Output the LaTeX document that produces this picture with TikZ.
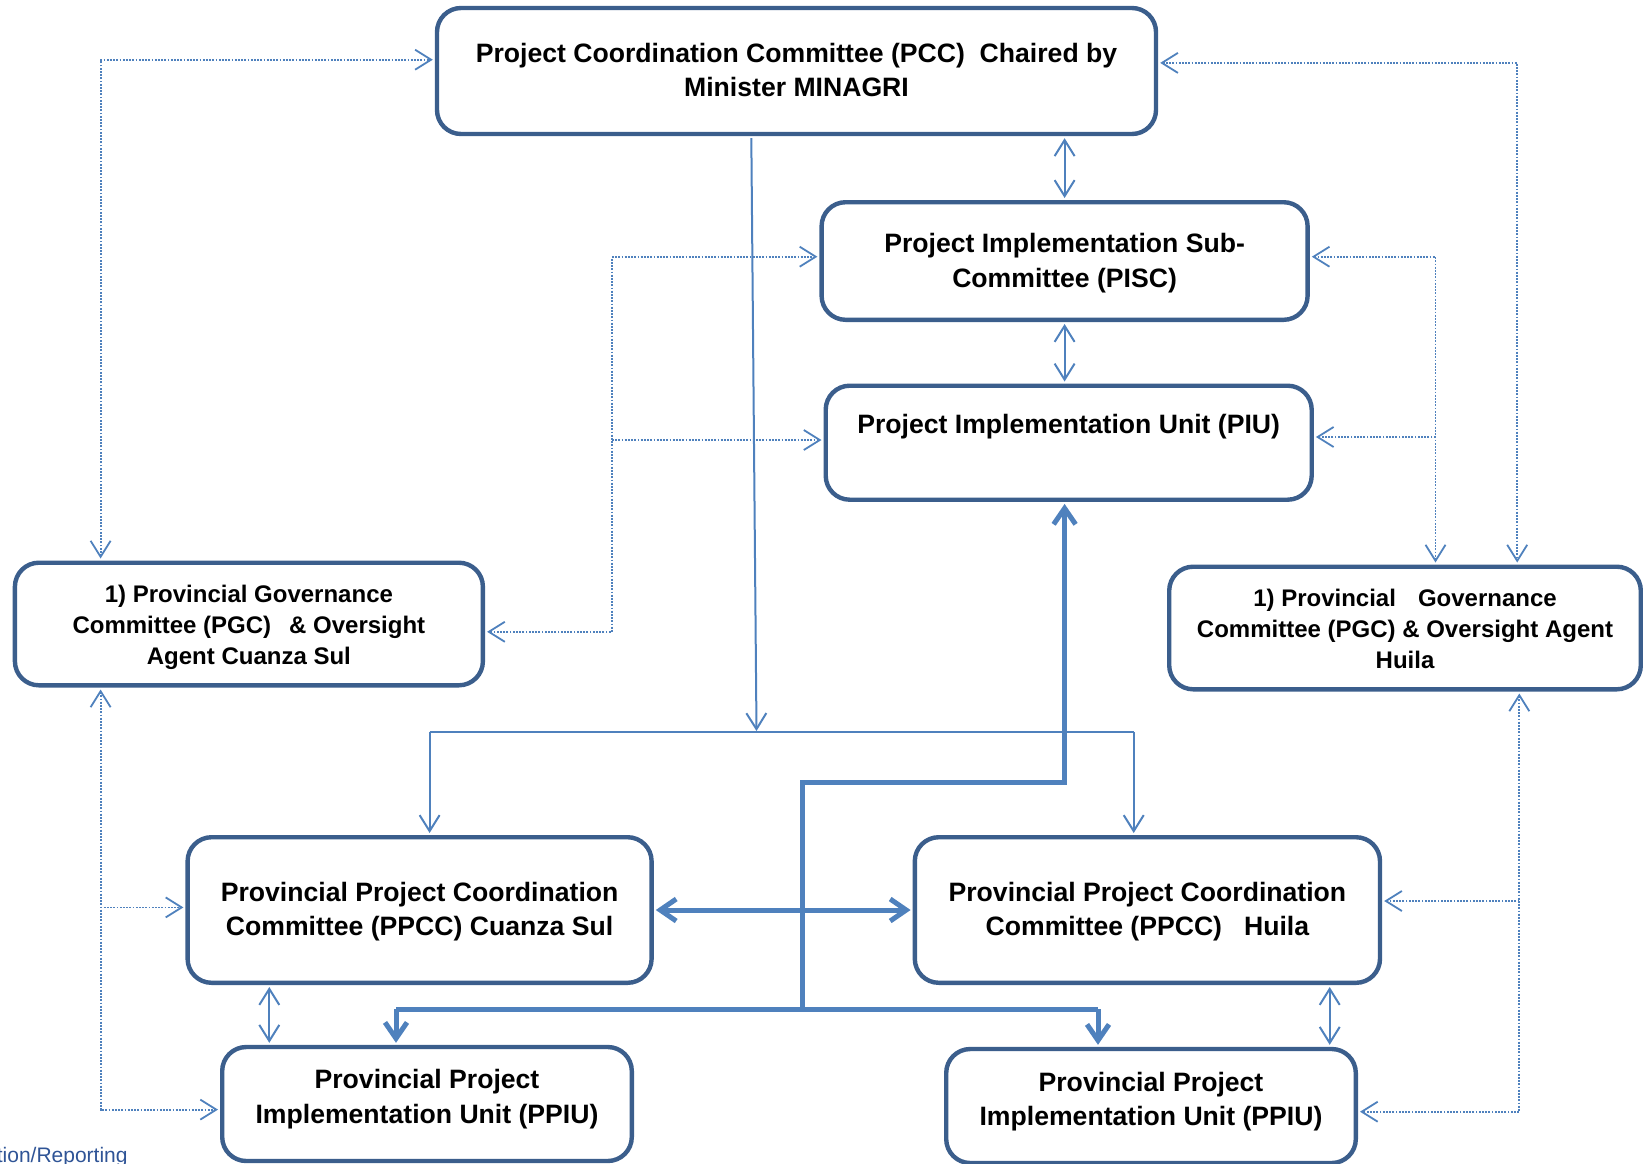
\documentclass[tikz,border=0pt]{standalone}
\usepackage{fontspec}
\setmainfont{Liberation Sans}
\usetikzlibrary{arrows.meta,calc}
\definecolor{boxline}{RGB}{59,94,140}
\definecolor{link}{RGB}{79,129,189}
\definecolor{legendblue}{RGB}{47,84,150}
\tikzset{
  barb/.tip={Straight Barb[length=8pt,width=10pt]},
  bigbarb/.tip={Straight Barb[length=8pt,width=11pt]},
}
\begin{document}
\begin{tikzpicture}[x=0.5pt,y=-0.5pt,
  box/.style={draw=boxline, line width=2.2pt, rounded corners=12pt, fill=white, inner sep=0pt},
  txt/.style={align=center, inner sep=0pt, font=\bfseries\fontsize{13.3}{17.3}\selectfont},
  pgctxt/.style={txt, font=\bfseries\fontsize{12}{15.5}\selectfont},
  thinlink/.style={draw=link, line width=1pt, shorten >=1pt, shorten <=1pt},
  thicklink/.style={draw=link, line width=2.5pt, shorten >=1pt, shorten <=1pt},
  dotlink/.style={draw=link, line width=0.9pt, dash pattern=on 0.9pt off 0.7pt,
    shorten >=1pt, shorten <=1pt},
]
\useasboundingbox (0,0) rectangle (1643,1163);
\clip (0,0) rectangle (1643,1163);

% ---------- boxes ----------
\node[box, minimum width=359.5pt, minimum height=63pt] (pcc) at (796.5,71) {};
\node[box, minimum width=243pt, minimum height=58.8pt] (pisc) at (1064.6,261) {};
\node[box, minimum width=243pt, minimum height=57pt] (piu) at (1068.7,442.7) {};
\node[box, minimum width=234pt, minimum height=61.3pt] (pgcL) at (248.9,624) {};
\node[box, minimum width=235.8pt, minimum height=61.3pt] (pgcR) at (1405,628) {};
\node[box, minimum width=232pt, minimum height=72.8pt] (ppccL) at (419.6,910) {};
\node[box, minimum width=232.6pt, minimum height=72.8pt] (ppccR) at (1147.4,910) {};
\node[box, minimum width=204.8pt, minimum height=57pt] (ppiuL) at (427,1104) {};
\node[box, minimum width=204.8pt, minimum height=57pt] (ppiuR) at (1151,1106) {};

% ---------- box texts ----------
\node[txt] (pcctext) at ($(pcc)+(0,-1)$)
  {Project Coordination Committee (PCC)~ Chaired by\\Minister MINAGRI};
\node[txt] (pisctext) at ($(pisc)+(0,2)$)
  {Project Implementation Sub-\\Committee (PISC)};
\node[txt] (piutext) at ($(piu)+(0,-16.2)$) {Project Implementation Unit (PIU)};
\node[pgctxt] (pgcLtext) at ($(pgcL)+(0,3)$)
  {1) Provincial Governance\\Committee (PGC)\hspace{9pt}\& Oversight\\Agent Cuanza Sul};
\node[pgctxt] (pgcRtext) at ($(pgcR)+(0,0.5)$)
  {1) Provincial\hspace{11pt}Governance\\Committee (PGC) \& Oversight Agent\\Huila};
\node[txt] (ppccLtext) at ($(ppccL)+(0,1.5)$)
  {Provincial Project Coordination\\Committee (PPCC) Cuanza Sul};
\node[txt] (ppccRtext) at ($(ppccR)+(0,1.5)$)
  {Provincial Project Coordination\\Committee (PPCC)\hspace{11pt}Huila};
\node[txt] (ppiuLtext) at ($(ppiuL)+(0,-5)$) {Provincial Project\\Implementation Unit (PPIU)};
\node[txt] (ppiuRtext) at ($(ppiuR)+(0,-4.5)$) {Provincial Project\\Implementation Unit (PPIU)};

\node[anchor=base east, inner sep=0pt, text=legendblue,
  font=\fontsize{10.5}{12}\selectfont] (legend) at (128,1162) {tion/Reporting};

% ---------- solid thin links ----------
\coordinate (drop) at (756.5,731);
\coordinate (busL) at (429.6,732.4);
\coordinate (busR) at (1133.7,732.4);
\draw[thinlink, shorten >=0pt, -barb] ($(pcc.south)+(-45.2,0)$) -- (drop);
\draw[draw=link, line width=1pt] (busL) -- (busR);
\draw[thinlink, shorten <=0pt, -barb] (busL) -- (busL |- ppccL.north);
\draw[thinlink, shorten <=0pt, -barb] (busR) -- (busR |- ppccR.north);

\draw[thinlink, barb-barb] (pcc.south -| pisc.north) -- (pisc.north);
\draw[thinlink, barb-barb] (pisc.south) -- (pisc.south |- piu.north);

\coordinate (pl) at (269.3,0);
\coordinate (pr) at (1329.7,0);
\draw[thinlink, barb-barb] (ppccL.south -| pl) -- (ppiuL.north -| pl);
\draw[thinlink, barb-barb] (ppccR.south -| pr) -- (ppiuR.north -| pr);

% ---------- thick links ----------
\coordinate (t1) at (1064.6,782.7);
\coordinate (t2) at (802.6,782.7);
\coordinate (t3) at (802.6,1009);
\coordinate (t4L) at (396,1009);
\coordinate (t4R) at (1098,1009);
\draw[thicklink, shorten >=0pt, bigbarb-] (t1 |- piu.south) -- (t1) -- (t2) -- (t3);
\draw[draw=link, line width=2.5pt] (t4L) -- (t4R);
\draw[thicklink, shorten <=0pt, -bigbarb] (t4L) -- (t4L |- ppiuL.north);
\draw[thicklink, shorten <=0pt, -bigbarb] (t4R) -- (t4R |- ppiuR.north);
\draw[thicklink, bigbarb-bigbarb] (ppccL.east) -- (ppccR.west);

% ---------- dotted links, left side ----------
\coordinate (a1) at (100.6,59.7);
\draw[dotlink, barb-barb] (pgcL.north -| a1) -- (a1) -- (a1 -| pcc.west);
\coordinate (b1) at (100.6,1109.6);
\coordinate (b2) at (100.6,907.4);
\draw[dotlink, barb-barb] (pgcL.south -| b1) -- (b1) -- (b1 -| ppiuL.west);
\draw[dotlink, shorten <=0pt, -barb] (b2) -- (b2 -| ppccL.west);

\coordinate (c1) at (611.9,256.7);
\coordinate (c2) at (611.9,631.8);
\coordinate (c3) at (611.9,440);
\draw[dotlink, -barb] (c1) -- (c2) -- (c2 -| pgcL.east);
\draw[dotlink, shorten <=0pt, -barb] (c1) -- (c1 -| pisc.west);
\draw[dotlink, shorten <=0pt, -barb] (c3) -- (c3 -| piu.west);

% ---------- dotted links, right side ----------
\coordinate (d1) at (1517.2,62.9);
\draw[dotlink, barb-barb] (d1 -| pcc.east) -- (d1) -- (d1 |- pgcR.north);
\coordinate (e1) at (1435.5,256.7);
\coordinate (e2) at (1435.5,437);
\draw[dotlink, barb-barb] (e1 -| pisc.east) -- (e1) -- (e1 |- pgcR.north);
\draw[dotlink, shorten <=0pt, -barb] (e2) -- (e2 -| piu.east);
\coordinate (f1) at (1519.3,1111.7);
\coordinate (f2) at (1519.3,901);
\draw[dotlink, barb-barb] (pgcR.south -| f1) -- (f1) -- (f1 -| ppiuR.east);
\draw[dotlink, shorten <=0pt, -barb] (f2) -- (f2 -| ppccR.east);
\end{tikzpicture}
\end{document}
